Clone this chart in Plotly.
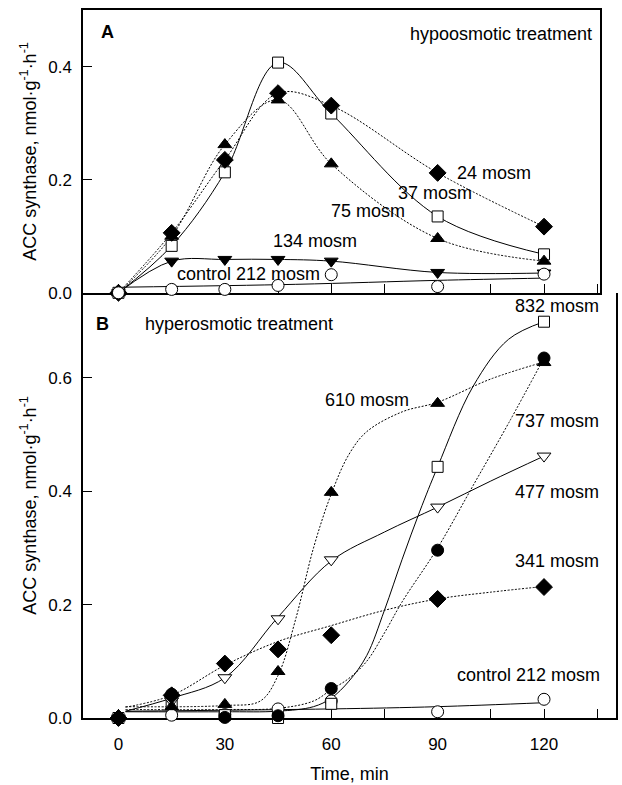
import plotly.graph_objects as go

# ---------------- data ----------------
t = [0, 15, 30, 45, 60, 90, 120]

# Panel A (hypoosmotic)
a24 = [0, 0.106, 0.235, 0.353, 0.331, 0.212, 0.117]
a37 = [0, 0.083, 0.213, 0.407, 0.317, 0.135, 0.068]
a75 = [0, 0.100, 0.262, 0.341, 0.228, 0.096, 0.056]
a134 = [0, 0.056, 0.059, 0.059, 0.056, 0.036, 0.035]
a212 = [0, 0.006, 0.006, 0.013, 0.032, 0.011, 0.033]
a212_fit_t = [2, 50, 90, 120]
a212_fit = [0.010, 0.015, 0.022, 0.026]

# Panel B (hyperosmotic)
b832 = [0, 0.027, 0.005, 0.0, 0.025, 0.443, 0.699]
b737 = [0, 0.042, 0.001, 0.004, 0.052, 0.296, 0.635]
b610 = [0, 0.020, 0.024, 0.082, 0.398, 0.555, 0.627]
b477 = [0, 0.030, 0.071, 0.175, 0.279, 0.372, 0.462]
b341 = [0, 0.040, 0.096, 0.121, 0.146, 0.210, 0.231]
b212 = [0, 0.005, 0.006, 0.016, 0.030, 0.011, 0.033]

# fitted curves (panel B)
f832_t = [2, 30, 45, 55, 60, 65, 70, 75, 80, 85, 90, 100, 110, 120]
f832 = [0.011, 0.011, 0.012, 0.020, 0.035, 0.065, 0.110, 0.190, 0.280, 0.365, 0.443, 0.585, 0.668, 0.699]
f737_t = [2, 30, 45, 55, 60, 65, 70, 75, 80, 90, 100, 110, 120]
f737 = [0.015, 0.015, 0.017, 0.030, 0.050, 0.070, 0.100, 0.150, 0.205, 0.300, 0.410, 0.520, 0.635]
f610_t = [2, 30, 40, 45, 50, 55, 60, 65, 70, 80, 90, 105, 120]
f610 = [0.020, 0.022, 0.030, 0.075, 0.175, 0.300, 0.395, 0.465, 0.505, 0.540, 0.557, 0.598, 0.628]
f477_t = [2, 15, 30, 45, 60, 75, 90, 105, 120]
f477 = [0.012, 0.035, 0.071, 0.178, 0.277, 0.328, 0.372, 0.418, 0.462]
f341_t = [2, 15, 30, 45, 60, 75, 90, 105, 120]
f341 = [0.019, 0.040, 0.093, 0.135, 0.163, 0.190, 0.210, 0.222, 0.232]
f212_t = [2, 60, 90, 120]
f212 = [0.012, 0.016, 0.020, 0.027]

FONT = "Arial, Liberation Sans, Helvetica, sans-serif"
DOT = "2px,1.6px"

fig = go.Figure()

def line(x, y, dash, xa, ya):
    fig.add_trace(go.Scatter(x=x, y=y, mode="lines", xaxis=xa, yaxis=ya,
                             line=dict(color="black", width=1, dash=dash, shape="spline", smoothing=1.0),
                             showlegend=False, hoverinfo="skip", cliponaxis=False))

def marks(x, y, symbol, fill, size, xa, ya):
    fig.add_trace(go.Scatter(x=x, y=y, mode="markers", xaxis=xa, yaxis=ya,
                             marker=dict(symbol=symbol, size=size, color=fill,
                                         line=dict(color="black", width=1)),
                             showlegend=False, cliponaxis=False))

# ---- panel A lines ----
line(t, a37, "solid", "x2", "y2")
line(t, a24, DOT, "x2", "y2")
line(t, a75, DOT, "x2", "y2")
line(t, a134, "solid", "x2", "y2")
line(a212_fit_t, a212_fit, "solid", "x2", "y2")
# ---- panel A markers ----
marks(t, a37, "square", "white", 11, "x2", "y2")
marks(t, a134, "triangle-down", "black", 12, "x2", "y2")
marks(t, a75, "triangle-up", "black", 12, "x2", "y2")
marks(t, a24, "diamond", "black", 13, "x2", "y2")
marks(t, a212, "circle", "white", 12, "x2", "y2")

# ---- panel B lines ----
line(f832_t, f832, "solid", "x", "y")
line(f737_t, f737, DOT, "x", "y")
line(f610_t, f610, DOT, "x", "y")
line(f477_t, f477, "solid", "x", "y")
line(f341_t, f341, DOT, "x", "y")
line(f212_t, f212, "solid", "x", "y")
# ---- panel B markers ----
marks(t, b212, "circle", "white", 12, "x", "y")
marks(t, b832, "square", "white", 11, "x", "y")
marks(t, b477, "triangle-down", "white", 12, "x", "y")
marks(t, b610, "triangle-up", "black", 12, "x", "y")
marks(t, b341, "diamond", "black", 13, "x", "y")
marks(t, b737, "circle", "black", 12, "x", "y")

ytitle = "ACC synthase, nmol·g<sup>-1</sup>·h<sup>-1</sup>"

common_x = dict(showline=True, linecolor="black", linewidth=1.5,
                ticks="inside", ticklen=9, tickwidth=1, tickcolor="black",
                tick0=0, dtick=30, showgrid=False, zeroline=False, layer="below traces",
                minor=dict(dtick=15, tick0=0, ticks="inside", ticklen=9,
                           tickwidth=1, tickcolor="black", showgrid=False),
                tickfont=dict(family=FONT, size=17, color="black"))
common_y = dict(showline=True, linecolor="black", linewidth=1.5, mirror=True,
                ticks="inside", ticklen=9, tickwidth=1, tickcolor="black",
                dtick=0.2, tickformat=".1f", showgrid=False, zeroline=False, layer="below traces",
                tickfont=dict(family=FONT, size=17, color="black"),
                ticklabelstandoff=6,
                title=dict(text=ytitle, font=dict(family=FONT, size=18, color="black"), standoff=7))

split = 430 / 716

fig.update_layout(
    width=622, height=785,
    margin=dict(l=83, r=4, t=10, b=59),
    paper_bgcolor="white", plot_bgcolor="white",
    font=dict(family=FONT, color="black"),
    xaxis=dict(common_x, domain=[0, 1], range=[-10, 140.3], anchor="y", mirror=False,
               ticklabelstandoff=10,
               title=dict(text="Time, min", font=dict(family=FONT, size=18, color="black"), standoff=14)),
    yaxis=dict(common_y, domain=[0, split], range=[0, 0.75], anchor="x"),
    xaxis2=dict(common_x, domain=[0, 519 / 535], range=[-10, 135.8], anchor="y2", mirror=True,
                showticklabels=False),
    yaxis2=dict(common_y, domain=[split, 1], range=[0, 0.5], anchor="x2"),
)

def ann(text, x, y, xa, ya, anchor="left", size=18, bold=False):
    if bold:
        text = "<b>" + text + "</b>"
    fig.add_annotation(text=text, x=x, y=y, xref=xa, yref=ya, xanchor=anchor,
                       yanchor="middle", showarrow=False,
                       font=dict(family=FONT, size=size, color="black"))

# panel A labels
ann("A", -5.6, 0.461, "x2", "y2", size=18, bold=True)
ann("hypoosmotic treatment", 134.0, 0.458, "x2", "y2", anchor="right")
ann("24 mosm", 95.0, 0.212, "x2", "y2")
ann("37 mosm", 78.2, 0.176, "x2", "y2")
ann("75 mosm", 59.4, 0.144, "x2", "y2")
ann("134 mosm", 43.0, 0.091, "x2", "y2")
ann("control 212 mosm", 15.8, 0.033, "x2", "y2")

# panel B labels
ann("B", -7.0, 0.695, "x", "y", size=18, bold=True)
ann("hyperosmotic treatment", 7.0, 0.695, "x", "y")
ann("832 mosm", 136.2, 0.726, "x", "y", anchor="right")
ann("610 mosm", 57.8, 0.561, "x", "y")
ann("737 mosm", 136.2, 0.523, "x", "y", anchor="right")
ann("477 mosm", 136.2, 0.3995, "x", "y", anchor="right")
ann("341 mosm", 136.2, 0.2765, "x", "y", anchor="right")
ann("control 212 mosm", 136.4, 0.0765, "x", "y", anchor="right")

fig.write_html("out.html")
